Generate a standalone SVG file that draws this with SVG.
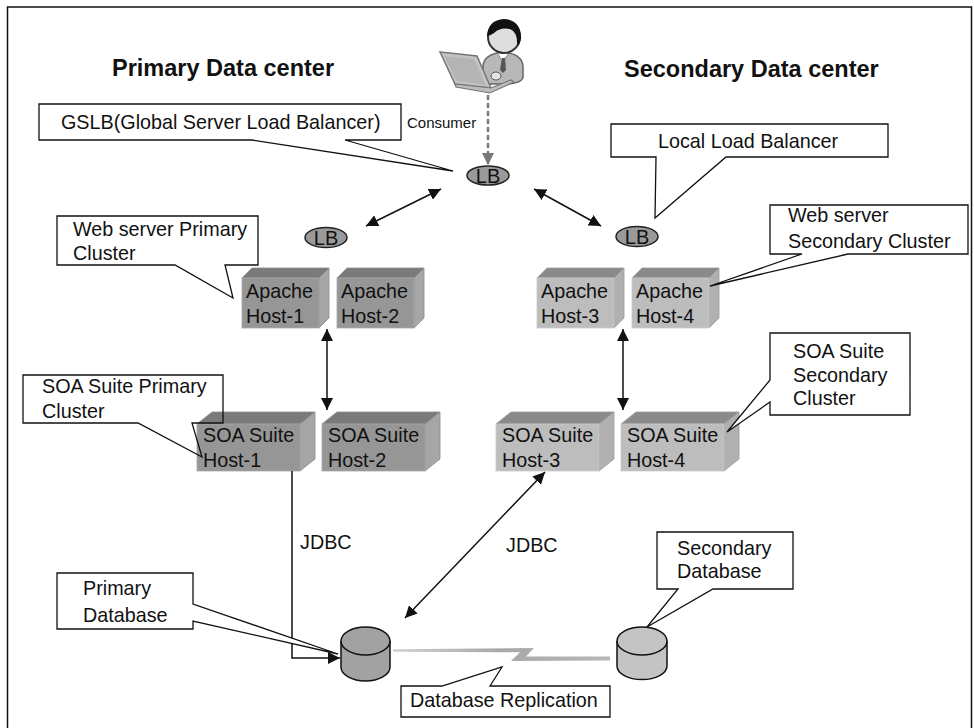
<svg xmlns="http://www.w3.org/2000/svg" width="974" height="728" viewBox="0 0 974 728">
  <style>
    text { font-family: "Liberation Sans", Arial, sans-serif; fill: #111; }
    .t { font-size: 19.75px; }
    .title { font-size: 23.5px; font-weight: bold; }
    .lbl { font-size: 15px; }
    .lbt { font-size: 20px; text-anchor: middle; }
    .callout { fill: #fff; stroke: #111; stroke-width: 1.3; stroke-linejoin: miter; }
    .callout-open { fill: none; stroke: #111; stroke-width: 1.3; }
    .lb { fill: #9a9a9a; stroke: #222; stroke-width: 1.5; }
    .p-top { fill: #7a7a7a; stroke: #8a8a8a; stroke-width: 0.8; }
    .p-front { fill: #969696; stroke: #a8a8a8; stroke-width: 0.8; }
    .p-side { fill: #a6a6a6; stroke: #8a8a8a; stroke-width: 0.8; }
    .s-top { fill: #8a8a8a; stroke: #9a9a9a; stroke-width: 0.8; }
    .s-front { fill: #bdbdbd; stroke: #cacaca; stroke-width: 0.8; }
    .s-side { fill: #b0b0b0; stroke: #9a9a9a; stroke-width: 0.8; }
    .link { fill: none; stroke: #111; stroke-width: 1.5; }
    .db-p { fill: #a2a2a2; stroke: #111; stroke-width: 1.5; }
    .db-s { fill: #c4c4c4; stroke: #111; stroke-width: 1.5; }
  </style>
  <defs>
    <marker id="ah" viewBox="0 0 12 12" refX="12" refY="6" markerWidth="12" markerHeight="12" markerUnits="userSpaceOnUse" orient="auto-start-reverse">
      <path d="M0,0 L12,6 L0,12 Z" fill="#111"/>
    </marker>
    <marker id="ahg" viewBox="0 0 14 12" refX="12" refY="6" markerWidth="14" markerHeight="12" markerUnits="userSpaceOnUse" orient="auto">
      <path d="M0,0 L12,6 L0,12 Z" fill="#777"/>
    </marker>
    <linearGradient id="bolt" x1="0" y1="0" x2="1" y2="0">
      <stop offset="0" stop-color="#d0d0d0"/>
      <stop offset="0.5" stop-color="#a8a8a8"/>
      <stop offset="1" stop-color="#b8b8b8"/>
    </linearGradient>
  </defs>

  <rect width="974" height="728" fill="#fff"/>
  <!-- outer frame -->
  <rect x="7.5" y="7" width="964" height="740" fill="none" stroke="#111" stroke-width="1.5"/>

  <!-- headings -->
  <text class="title" x="112" y="76">Primary Data center</text>
  <text class="title" x="624" y="77">Secondary Data center</text>

  <!-- consumer -->
  <g id="consumer">
    <path d="M483,84 V66 Q484,54 503,52 Q522,54 523,66 V78 Q520,84 505,84 Z" fill="#b8b8b8" stroke="#666" stroke-width="1.5"/>
    <path d="M497,53 L503,62 L509,53 Z" fill="#fff" stroke="#666" stroke-width="0.8"/>
    <path d="M502,58 L505,58 L506,70 L503,73 L500,70 Z" fill="#555"/>
    <circle cx="504" cy="37" r="16" fill="#dedede" stroke="#333" stroke-width="2"/>
    <path d="M487,36 Q488,20 504,19 Q521,20 521,38 Q520,44 517,46 Q518,32 510,29 Q500,27 494,33 Q490,36 487,36 Z" fill="#111"/>
    <polygon points="440,52 477,56 491,88 455,84" fill="#c4c4c4" stroke="#777" stroke-width="1.5"/>
    <polygon points="444,56 474,59 486,85 457,81" fill="#b4b4b4"/>
    <polygon points="455,84 491,88 511,80 514,82 490,93 456,87" fill="#bdbdbd" stroke="#777" stroke-width="1.2"/>
    <ellipse cx="496" cy="76" rx="5" ry="4" fill="#e4e4e4" stroke="#555" stroke-width="1"/>
    <text class="lbl" x="407" y="128">Consumer</text>
  </g>

  <!-- load balancers -->
  <g id="lb-global">
    <ellipse class="lb" cx="488" cy="175.5" rx="21" ry="9.5"/>
    <text class="lbt" x="488" y="182.5">LB</text>
  </g>
  <g id="lb-primary">
    <ellipse class="lb" cx="326" cy="237.5" rx="21" ry="10"/>
    <text class="lbt" x="326" y="244.5">LB</text>
  </g>
  <g id="lb-secondary">
    <ellipse class="lb" cx="637" cy="236.5" rx="21" ry="10"/>
    <text class="lbt" x="637" y="243.5">LB</text>
  </g>

  <!-- Apache hosts -->
  <g id="apache-host-1">
    <polygon class="p-top" points="242,278 252,268 329,268 319,278"/>
    <polygon class="p-side" points="319,278 329,268 329,318 319,328"/>
    <rect class="p-front" x="242" y="278" width="77" height="50"/>
    <text class="t" x="246" y="298">Apache</text>
    <text class="t" x="246" y="323">Host-1</text>
  </g>
  <g id="apache-host-2">
    <polygon class="p-top" points="337,278 347,268 424,268 414,278"/>
    <polygon class="p-side" points="414,278 424,268 424,318 414,328"/>
    <rect class="p-front" x="337" y="278" width="77" height="50"/>
    <text class="t" x="341" y="298">Apache</text>
    <text class="t" x="341" y="323">Host-2</text>
  </g>
  <g id="apache-host-3">
    <polygon class="s-top" points="537,278 547,268 624,268 614,278"/>
    <polygon class="s-side" points="614,278 624,268 624,318 614,328"/>
    <rect class="s-front" x="537" y="278" width="77" height="50"/>
    <text class="t" x="541" y="298">Apache</text>
    <text class="t" x="541" y="323">Host-3</text>
  </g>
  <g id="apache-host-4">
    <polygon class="s-top" points="632,278 642,268 719,268 709,278"/>
    <polygon class="s-side" points="709,278 719,268 719,318 709,328"/>
    <rect class="s-front" x="632" y="278" width="77" height="50"/>
    <text class="t" x="636" y="298">Apache</text>
    <text class="t" x="636" y="323">Host-4</text>
  </g>

  <!-- SOA Suite hosts -->
  <g id="soa-host-1">
    <polygon class="p-top" points="197,424 212,412 315,412 300,424"/>
    <polygon class="p-side" points="300,424 315,412 315,459 300,471"/>
    <rect class="p-front" x="197" y="424" width="103" height="47"/>
    <text class="t" x="203" y="442">SOA Suite</text>
    <text class="t" x="203" y="467">Host-1</text>
  </g>
  <g id="soa-host-2">
    <polygon class="p-top" points="322,424 337,412 440,412 425,424"/>
    <polygon class="p-side" points="425,424 440,412 440,459 425,471"/>
    <rect class="p-front" x="322" y="424" width="103" height="47"/>
    <text class="t" x="328" y="442">SOA Suite</text>
    <text class="t" x="328" y="467">Host-2</text>
  </g>
  <g id="soa-host-3">
    <polygon class="s-top" points="496,424 511,412 614,412 599,424"/>
    <polygon class="s-side" points="599,424 614,412 614,459 599,471"/>
    <rect class="s-front" x="496" y="424" width="103" height="47"/>
    <text class="t" x="502" y="442">SOA Suite</text>
    <text class="t" x="502" y="467">Host-3</text>
  </g>
  <g id="soa-host-4">
    <polygon class="s-top" points="621,424 636,412 739,412 724,424"/>
    <polygon class="s-side" points="724,424 739,412 739,459 724,471"/>
    <rect class="s-front" x="621" y="424" width="103" height="47"/>
    <text class="t" x="627" y="442">SOA Suite</text>
    <text class="t" x="627" y="467">Host-4</text>
  </g>

  <!-- databases -->
  <g id="primary-db">
    <path class="db-p" d="M341,641 V667 A24.5,14 0 0 0 390,667 V641"/>
    <ellipse class="db-p" cx="365.5" cy="641" rx="24.5" ry="14"/>
  </g>
  <g id="secondary-db">
    <path class="db-s" d="M617,641 V666 A25,13.5 0 0 0 667,666 V641"/>
    <ellipse class="db-s" cx="642" cy="641" rx="25" ry="14"/>
  </g>

  <!-- connectors -->
  <g id="connectors">
    <line x1="488" y1="95" x2="488" y2="165" stroke="#777" stroke-width="2.5" stroke-dasharray="5,3" marker-end="url(#ahg)"/>
    <line class="link" x1="366" y1="226" x2="441" y2="189" marker-start="url(#ah)" marker-end="url(#ah)"/>
    <line class="link" x1="534" y1="189" x2="601" y2="226" marker-start="url(#ah)" marker-end="url(#ah)"/>
    <line class="link" x1="327" y1="329" x2="327" y2="410" marker-start="url(#ah)" marker-end="url(#ah)"/>
    <line class="link" x1="623" y1="329" x2="623" y2="410" marker-start="url(#ah)" marker-end="url(#ah)"/>
    <path class="link" d="M292,471 V658 H340" marker-end="url(#ah)"/>
    <line class="link" x1="545" y1="472" x2="405" y2="618" marker-start="url(#ah)" marker-end="url(#ah)"/>
    <polygon points="393,649.2 534,648 526,656.5 610,656.5 610,660.5 511,661 520,652.2 393,651.8" fill="url(#bolt)"/>
    <text class="t" x="300" y="549">JDBC</text>
    <text class="t" x="506" y="552">JDBC</text>
  </g>

  <!-- callouts -->
  <g id="gslb-callout">
    <path class="callout" d="M39,104 H401 V140 H345 L453,171 L252,140 H39 Z"/>
    <text class="t" x="61" y="129">GSLB(Global Server Load Balancer)</text>
  </g>
  <g id="local-lb-callout">
    <path class="callout" d="M611,124 H888 V157 H726 L655,218 L656,157 H611 Z"/>
    <text class="t" x="658" y="148">Local Load Balancer</text>
  </g>
  <g id="web-primary-callout">
    <path class="callout" d="M57,216 H258 V265 H225 L233,298 L175,265 H57 Z"/>
    <text class="t" x="73" y="236">Web server Primary</text>
    <text class="t" x="73" y="260">Cluster</text>
  </g>
  <g id="web-secondary-callout">
    <path class="callout" d="M770,205 H968 V254 H848 L710,286 L802,254 H770 Z"/>
    <text class="t" x="788" y="222">Web server</text>
    <text class="t" x="788" y="248">Secondary Cluster</text>
  </g>
  <g id="soa-primary-callout">
    <path class="callout-open" d="M23,375 H223 V423 H192 L202,457 L138,423 H23 Z"/>
    <text class="t" x="42" y="393">SOA Suite Primary</text>
    <text class="t" x="42" y="418">Cluster</text>
  </g>
  <g id="soa-secondary-callout">
    <path class="callout" d="M770,333 H910 V415 H770 V402 L727,432 L770,380 Z"/>
    <text class="t" x="793" y="358">SOA Suite</text>
    <text class="t" x="793" y="382">Secondary</text>
    <text class="t" x="793" y="405">Cluster</text>
  </g>
  <g id="primary-db-callout">
    <path class="callout" d="M57,573 H193 V604 L338,654 L193,621 V629 H57 Z"/>
    <text class="t" x="83" y="595">Primary</text>
    <text class="t" x="83" y="622">Database</text>
  </g>
  <g id="secondary-db-callout">
    <path class="callout" d="M657,532 H793 V589 H713 L647,627 L678,589 H657 Z"/>
    <text class="t" x="677" y="555">Secondary</text>
    <text class="t" x="677" y="578">Database</text>
  </g>
  <g id="replication-callout">
    <path class="callout" d="M401,686 H442 L502,667 L490,686 H610 V717 H401 Z"/>
    <text class="t" x="410" y="707">Database Replication</text>
  </g>
</svg>
